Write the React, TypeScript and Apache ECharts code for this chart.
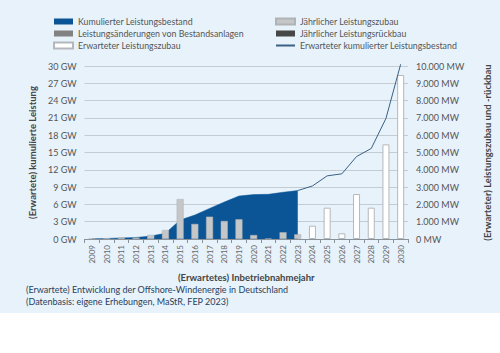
import React, { useEffect, useRef } from "react";
import * as echarts from "echarts";

const years = ["2009","2010","2011","2012","2013","2014","2015","2016","2017","2018","2019","2020","2021","2022","2023","2024","2025","2026","2027","2028","2029","2030"];
// GW, cumulative installed (2009-2023)
const cumulative: (number | null)[] = [0.04, 0.08, 0.19, 0.27, 0.5, 1.0, 3.3, 4.15, 5.3, 6.4, 7.45, 7.7, 7.75, 8.1, 8.4, null, null, null, null, null, null, null];
// GW, expected cumulative (2023-2030)
const expectedCumulative: (number | null)[] = [null, null, null, null, null, null, null, null, null, null, null, null, null, null, 8.4, 9.2, 10.95, 11.3, 14.3, 15.7, 20.9, 30.3];
// MW, annual additions
const annualAdd: (number | null)[] = [30, 50, 100, 80, 240, 520, 2310, 870, 1290, 1040, 1140, 230, 20, 390, 270, null, null, null, null, null, null, null];
// MW, expected annual additions
const expectedAdd: (number | null)[] = [null, null, null, null, null, null, null, null, null, null, null, null, null, null, null, 770, 1810, 330, 2600, 1810, 5470, 9480];
const changes: (number | null)[] = years.map(() => null);
const decommission: (number | null)[] = years.map(() => null);

const gwTicks = { min: 0, max: 30, interval: 3 };
const mwTicks = { min: 0, max: 10000, interval: 1000 };

const FONT = "Lato";

export default function App() {
  const ref = useRef<HTMLDivElement>(null);
  useEffect(() => {
    if (!ref.current) return;
    const chart = echarts.init(ref.current, undefined, { renderer: "svg" });
    const legendText = { color: "#555", fontSize: 8.8, fontFamily: FONT };
    chart.setOption({
      animation: false,
      backgroundColor: "#ffffff",
      textStyle: { fontFamily: FONT },
      graphic: [
        { type: "rect", z: -10, silent: true, shape: { x: 0, y: 0, width: 500, height: 313 }, style: { fill: "#e7f2fb" } },
        { type: "text", left: 26, top: 285, style: { text: "(Erwartete) Entwicklung der Offshore-Windenergie in Deutschland", fill: "#2a3f5c", fontSize: 9, fontFamily: FONT } },
        { type: "text", left: 26, top: 297, style: { text: "(Datenbasis: eigene Erhebungen, MaStR, FEP 2023)", fill: "#2a3f5c", fontSize: 9, fontFamily: FONT } },
      ],
      legend: [
        {
          left: 48, top: 12, orient: "vertical", itemGap: 3, itemWidth: 19, itemHeight: 6,
          textStyle: legendText,
          data: [
            { name: "Kumulierter Leistungsbestand", icon: "rect" },
            { name: "Leistungsänderungen von Bestandsanlagen", icon: "rect" },
            { name: "Erwarteter Leistungszubau", icon: "rect" },
          ],
        },
        {
          left: 270, top: 12, orient: "vertical", itemGap: 3, itemWidth: 19, itemHeight: 6,
          textStyle: legendText,
          data: [
            { name: "Jährlicher Leistungszubau", icon: "rect" },
            { name: "Jährlicher Leistungsrückbau", icon: "rect" },
            { name: "Erwarteter kumulierter Leistungsbestand", itemStyle: { opacity: 0 } },
          ],
        },
      ],
      grid: { left: 84.6, right: 90.6, top: 66, bottom: 114, containLabel: false },
      xAxis: {
        type: "category",
        data: years,
        boundaryGap: true,
        name: "(Erwartetes) Inbetriebnahmejahr",
        nameLocation: "middle",
        nameGap: 33,
        nameTextStyle: { fontWeight: "bold", fontSize: 9.5, color: "#444", fontFamily: FONT },
        axisLine: { lineStyle: { color: "#8a9299", width: 1 } },
        axisTick: { show: true, length: 4, lineStyle: { color: "#8a9299" } },
        axisLabel: { rotate: 90, fontSize: 8, color: "#666", margin: 6, fontFamily: FONT },
      },
      yAxis: [
        {
          type: "value",
          ...gwTicks,
          position: "left",
          name: "(Erwartete) kumulierte Leistung",
          nameLocation: "middle",
          nameRotate: 90,
          nameGap: 47,
          nameTextStyle: { fontWeight: "bold", fontSize: 9.5, color: "#444", fontFamily: FONT },
          axisLabel: { formatter: "{value} GW", fontSize: 9, color: "#555", margin: 8, fontFamily: FONT },
          axisLine: { show: false },
          axisTick: { show: false },
          splitLine: { lineStyle: { color: "#c3cbd3", width: 1 } },
        },
        {
          type: "value",
          ...mwTicks,
          position: "right",
          name: "(Erwarteter) Leistungszubau und -rückbau",
          nameLocation: "middle",
          nameRotate: 90,
          nameGap: 74,
          nameTextStyle: { fontWeight: "bold", fontSize: 9.5, color: "#444", fontFamily: FONT },
          axisLabel: {
            formatter: (v: number) => v.toString().replace(/\B(?=(\d{3})+(?!\d))/g, ".") + " MW",
            fontSize: 9, color: "#555", margin: 8, fontFamily: FONT,
          },
          axisLine: { show: false },
          axisTick: { show: false },
          splitLine: { show: false },
        },
      ],
      series: [
        {
          name: "Kumulierter Leistungsbestand",
          type: "line",
          yAxisIndex: 0,
          data: cumulative,
          symbol: "none",
          z: 1,
          itemStyle: { color: "#0b5596" },
          lineStyle: { width: 0.5, color: "#0b5596" },
          areaStyle: { color: "#0b5596", opacity: 1 },
        },
        {
          name: "Jährlicher Leistungszubau",
          type: "bar",
          yAxisIndex: 1,
          stack: "b",
          barWidth: 7,
          data: annualAdd,
          z: 3,
          itemStyle: { color: "#c4c6c8", borderColor: "#b0b3b6", borderWidth: 0.5 },
        },
        {
          name: "Leistungsänderungen von Bestandsanlagen",
          type: "bar",
          yAxisIndex: 1,
          stack: "b",
          barWidth: 7,
          data: changes,
          z: 3,
          itemStyle: { color: "#828282" },
        },
        {
          name: "Jährlicher Leistungsrückbau",
          type: "bar",
          yAxisIndex: 1,
          stack: "b",
          barWidth: 7,
          data: decommission,
          z: 3,
          itemStyle: { color: "#474747" },
        },
        {
          name: "Erwarteter Leistungszubau",
          type: "bar",
          yAxisIndex: 1,
          stack: "b",
          barWidth: 7,
          data: expectedAdd,
          z: 3,
          itemStyle: { color: "#ffffff", borderColor: "#b4b8bc", borderWidth: 1 },
        },
        {
          name: "Erwarteter kumulierter Leistungsbestand",
          type: "line",
          yAxisIndex: 0,
          data: expectedCumulative,
          symbol: "none",
          clip: false,
          z: 4,
          itemStyle: { color: "#3b6183" },
          lineStyle: { width: 1, color: "#3b6183" },
        },
      ],
    });
    return () => chart.dispose();
  }, []);
  return <div ref={ref} style={{ position: "absolute", left: 0, top: 0, width: 500, height: 353 }} />;
}
